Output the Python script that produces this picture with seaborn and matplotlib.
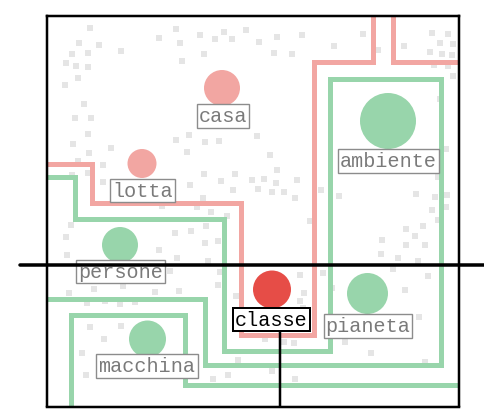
import matplotlib
matplotlib.use("Agg")
import seaborn as sns
import matplotlib.pyplot as plt
import pandas as pd

# word nodes (pixel coordinates of the picture, y grows downward)
words = ["casa", "lotta", "ambiente", "persone", "macchina", "classe", "pianeta"]
node_x = [222, 142, 388, 120, 147.5, 272, 367.5]
node_y = [89, 164.5, 122, 246, 340, 290.5, 294.5]
node_r = [18, 14.5, 28, 18, 18.5, 19, 20.5]
node_kind = ["pink", "pink", "green", "green", "green", "red", "green"]
label_x = [223, 142.5, 388.5, 120.5, 147, 271.5, 368]
label_base = [122.5, 197, 167.5, 278, 372.5, 326, 332.5]

# cluster boundaries
pink_a_x = [47, 92, 92, 241, 241, 314, 314, 373, 373]
pink_a_y = [165, 165, 204, 204, 336, 336, 63, 63, 17]
pink_b_x = [393, 393, 459]
pink_b_y = [17, 63, 63]
green_a_x = [47, 74.5, 74.5, 224.5, 224.5, 330.5, 330.5, 441.5, 441.5, 205, 205, 47]
green_a_y = [178, 178, 220, 220, 351.5, 351.5, 79.5, 79.5, 366, 366, 299.5, 299.5]
green_b_x = [70.5, 70.5, 185.5, 185.5, 459]
green_b_y = [407, 315.5, 315.5, 386.5, 386.5]

# selected word marker (crosshair)
cross_y = 265.7
cross_x = 280

# background vocabulary dots
dots_x = [90, 79, 99, 72, 88, 66, 76, 88, 78, 65, 84, 75, 91, 88, 73, 111, 89, 78, 103, 88,
          72, 103, 121, 159, 176, 180, 182, 200, 204, 215, 224, 232, 176, 189, 205, 219, 187, 204,
          221, 235, 190, 233, 203,
          246, 259, 277, 302, 274, 292, 334, 363, 378, 404, 432, 448, 440, 453, 430, 442, 452, 434,
          448, 453, 440, 257, 270, 277, 252, 264, 276, 297, 258, 272, 284, 295, 321, 339, 446, 438,
          416, 435, 447,
          71, 66, 67, 175, 191, 159, 177, 205, 218, 208, 220, 162, 197, 211, 227, 170, 69, 94, 123,
          155, 179, 218, 87, 105, 120, 135, 90, 104, 121, 82, 86, 140, 213, 228, 206, 236,
          432, 446, 438, 406, 423, 415, 382, 406, 425, 381, 398, 418, 393, 428, 300, 323, 304, 332,
          405, 310, 303, 419, 345, 371, 425, 294, 284, 265, 272, 295, 238, 300]
dots_y = [29, 44, 46, 55, 54, 64, 67, 68, 79, 86, 105, 119, 119, 135, 145, 149, 154, 162, 166, 174,
          176, 183, 52, 39, 30, 44, 62, 36, 55, 40, 33, 40, 141, 136, 143, 142, 153, 175,
          182, 175, 186, 191, 199,
          31, 43, 38, 36, 54, 55, 47, 35, 51, 47, 34, 35, 44, 45, 53, 55, 56, 66,
          67, 77, 100, 137, 156, 171, 181, 180, 184, 181, 190, 193, 193, 199, 191, 197, 150, 178,
          195, 198, 196,
          226, 238, 256, 234, 232, 251, 259, 244, 242, 262, 273, 207, 208, 213, 217, 272, 294, 290, 287,
          293, 292, 286, 304, 302, 305, 303, 328, 340, 327, 354, 376, 377, 380, 376, 227, 297,
          211, 208, 221, 230, 227, 237, 241, 246, 246, 255, 259, 262, 270, 277, 276, 274, 294, 289,
          291, 222, 309, 318, 343, 354, 363, 344, 343, 340, 372, 380, 361, 302]

colors = {"pink": "#f2a6a2", "green": "#98d5ab", "red": "#e64d47"}
DPI = 100
px = 72 / DPI  # points per pixel

sns.set_style("white")
plt.rcParams["lines.solid_joinstyle"] = "miter"
plt.rcParams["font.family"] = ["Liberation Mono", "DejaVu Sans Mono"]

fig = plt.figure(figsize=(4.84, 4.10), dpi=DPI)
left, right, top, bottom = 47.3, 459.3, 16.7, 407.5
ax = fig.add_axes([left / 484, 1 - bottom / 410, (right - left) / 484, (bottom - top) / 410])

df_dots = pd.DataFrame({"x": dots_x, "y": dots_y})
sns.scatterplot(data=df_dots, x="x", y="y", marker="s", s=(6 * px) ** 2,
                color="#e5e5e5", linewidth=0, ax=ax, zorder=1)

paths = []
for name, kind, xs, ys in [("pa", "pink", pink_a_x, pink_a_y), ("pb", "pink", pink_b_x, pink_b_y),
                           ("ga", "green", green_a_x, green_a_y), ("gb", "green", green_b_x, green_b_y)]:
    paths.append(pd.DataFrame({"x": xs, "y": ys, "path": name, "kind": kind}))
df_paths = pd.concat(paths, ignore_index=True)
sns.lineplot(data=df_paths, x="x", y="y", units="path", hue="kind", estimator=None, sort=False,
             palette=colors, linewidth=5 * px, legend=False, ax=ax, zorder=2)

df_nodes = pd.DataFrame({"x": node_x, "y": node_y, "kind": node_kind,
                         "s": [(2 * r * px) ** 2 for r in node_r]})
sns.scatterplot(data=df_nodes, x="x", y="y", hue="kind", palette=colors, s=df_nodes["s"],
                linewidth=0, legend=False, ax=ax, zorder=3)

for w, lx, ly in zip(words, label_x, label_base):
    sel = w == "classe"
    ax.text(lx, ly, w, ha="center", va="baseline", fontsize=14.5,
            color="black" if sel else "#7a7a7a", zorder=5,
            bbox=dict(boxstyle="square,pad=0.1", fc="white",
                      ec="black" if sel else "#8c8c8c", lw=(2 if sel else 1.4) * px))

ax.plot([19.5, 484], [cross_y, cross_y], color="black", lw=3.5 * px, clip_on=False, zorder=6)
ax.plot([cross_x, cross_x], [label_base[5], bottom], color="black", lw=2.5 * px, zorder=4)

ax.set_xlim(left, right)
ax.set_ylim(bottom, top)
ax.set(xlabel="", ylabel="", xticks=[], yticks=[])
for sp in ax.spines.values():
    sp.set_color("black")
    sp.set_linewidth(2.5 * px)
    sp.set_zorder(6)

plt.savefig("out.png", dpi=DPI)
